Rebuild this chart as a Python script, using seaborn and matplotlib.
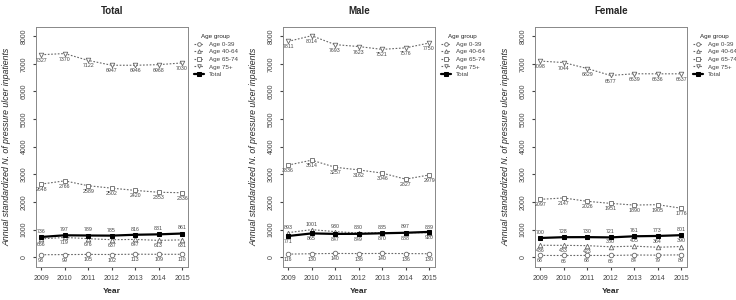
import numpy as np
import pandas as pd
import matplotlib
matplotlib.use("Agg")
import matplotlib.pyplot as plt
import seaborn as sns

# Du lieu doc tu hinh
years = [2009, 2010, 2011, 2012, 2013, 2014, 2015]
panels = ["Total", "Male", "Female"]
groups = ["Age 0-39", "Age 40-64", "Age 65-74", "Age 75+", "Total"]

total_0_39 = [93, 99, 105, 102, 113, 109, 110]
total_40_64 = [666, 719, 676, 637, 647, 613, 631]
total_65_74 = [2648, 2766, 2589, 2502, 2420, 2353, 2336]
total_75 = [7327, 7370, 7122, 6947, 6946, 6968, 7030]
total_all = [736, 797, 789, 785, 816, 831, 861]

male_0_39 = [116, 130, 140, 136, 140, 136, 130]
male_40_64 = [893, 1001, 930, 880, 885, 897, 889]
male_65_74 = [3336, 3514, 3257, 3162, 3046, 2827, 2979]
male_75 = [7811, 8014, 7693, 7623, 7521, 7576, 7750]
male_all = [771, 865, 847, 849, 870, 888, 920]

female_0_39 = [68, 66, 68, 66, 84, 79, 89]
female_40_64 = [436, 433, 423, 380, 405, 364, 390]
female_65_74 = [2097, 2147, 2026, 1951, 1890, 1905, 1776]
female_75 = [7098, 7044, 6829, 6577, 6639, 6636, 6637]
female_all = [700, 728, 730, 721, 761, 773, 801]

data = {
    "Total": [total_0_39, total_40_64, total_65_74, total_75, total_all],
    "Male": [male_0_39, male_40_64, male_65_74, male_75, male_all],
    "Female": [female_0_39, female_40_64, female_65_74, female_75, female_all],
}

rows = []
for p in panels:
    for g, vals in zip(groups, data[p]):
        for y, v in zip(years, vals):
            rows.append({"panel": p, "group": g, "year": y, "value": v})
df = pd.DataFrame(rows)

# vi tri nhan: -1 duoi, +1 tren
label_side = {
    "Total": {"Age 0-39": [-1] * 7, "Age 40-64": [-1] * 7, "Age 65-74": [-1] * 7,
              "Age 75+": [-1] * 7, "Total": [1] * 7},
    "Male": {"Age 0-39": [-1] * 7, "Age 40-64": [1] * 7, "Age 65-74": [-1] * 7,
             "Age 75+": [-1] * 7, "Total": [-1] * 7},
    "Female": {"Age 0-39": [-1] * 7, "Age 40-64": [-1, -1, -1, 1, 1, 1, 1],
               "Age 65-74": [-1] * 7, "Age 75+": [-1] * 7, "Total": [1] * 7},
}

markers = {"Age 0-39": "o", "Age 40-64": "^", "Age 65-74": "s", "Age 75+": "v", "Total": "s"}
grey = "#666666"

sns.set_style("white")
plt.rcParams["font.family"] = ["Liberation Sans", "DejaVu Sans"]

fig = plt.figure(figsize=(7.36, 3.0), dpi=100)
lefts = [36, 283, 535]
for p, left in zip(panels, lefts):
    ax = fig.add_axes([left / 736, 33 / 300, 152 / 736, 240 / 300])
    sub = df[df["panel"] == p]
    for g in groups:
        d = sub[sub["group"] == g]
        if g == "Total":
            sns.lineplot(data=d, x="year", y="value", ax=ax, color="black", lw=1.6,
                         marker="s", markersize=3.5, markeredgecolor="black", label=g, zorder=5)
        else:
            sns.lineplot(data=d, x="year", y="value", ax=ax, color=grey, lw=0.8,
                         linestyle=(0, (1.5, 1.5)), marker=markers[g], markersize=3.3,
                         markerfacecolor="white", markeredgecolor=grey, markeredgewidth=0.6,
                         label=g, zorder=3)
        for x, v, s in zip(d["year"], d["value"], label_side[p][g]):
            ax.text(x, v + s * 110, str(v), ha="center", va="bottom" if s > 0 else "top",
                    fontsize=3.8, color="#444444")

    ax.set_xlim(2008.78, 2015.25)
    ax.set_ylim(-350, 8330)
    ax.set_xticks(years)
    ax.set_yticks(range(0, 8001, 1000))
    ax.tick_params(axis="x", labelsize=5, length=2, direction="out", bottom=True, pad=4, colors="#444444")
    ax.tick_params(axis="y", labelsize=5, length=2, direction="out", left=True, labelrotation=90, pad=4, colors="#444444")
    for lab in ax.get_yticklabels():
        lab.set_va("center")
    for sp in ax.spines.values():
        sp.set_color("#888888")
        sp.set_linewidth(0.7)
    ax.set_title(p, fontsize=7, fontweight="bold", pad=9)
    ax.set_xlabel("Year", fontsize=6, fontweight="bold", labelpad=4)
    ax.set_ylabel("Annual standardized N. of pressure ulcer inpatients", fontsize=6.3,
                  fontstyle="italic", labelpad=7)
    leg = ax.legend(loc="upper left", bbox_to_anchor=(1.02, 0.98), frameon=False,
                    fontsize=4.5, title="Age group", title_fontsize=4.5,
                    handlelength=1.6, labelspacing=0.35, borderaxespad=0, markerscale=0.8)
    for t in leg.get_texts():
        t.set_color("#444444")

fig.savefig("out.png", dpi=100)
